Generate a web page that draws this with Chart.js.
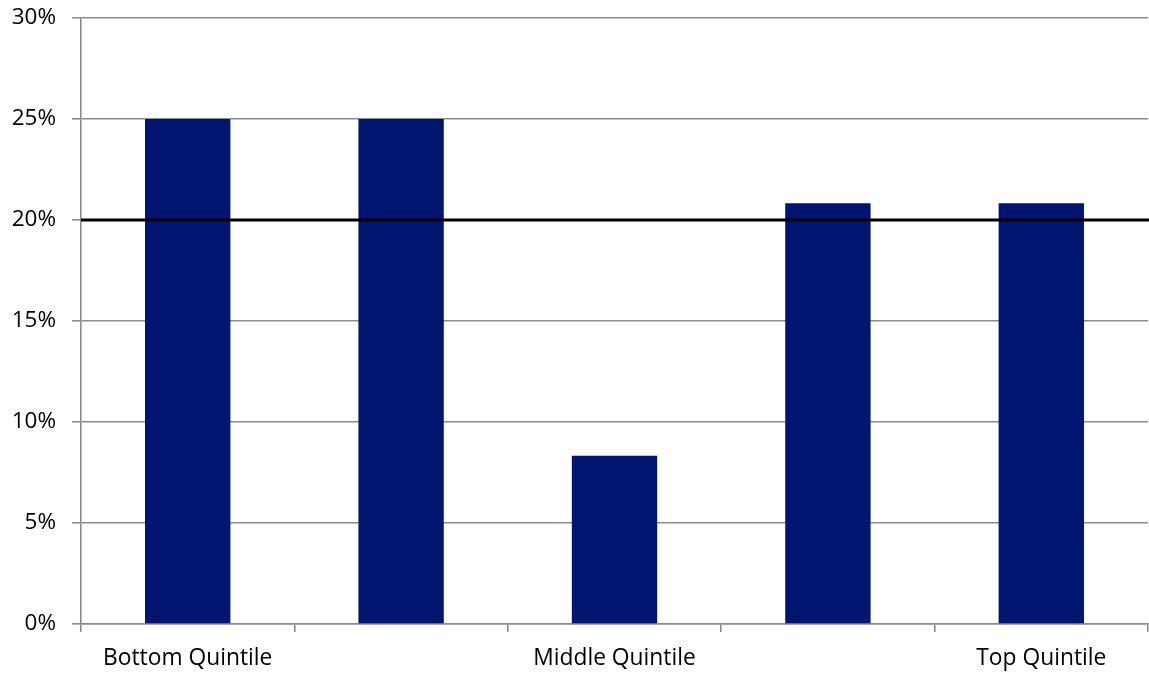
<!DOCTYPE html>
<html><head><meta charset="utf-8">
<script src="https://cdn.jsdelivr.net/npm/chart.js@4/dist/chart.umd.min.js"></script>
<style>html,body{margin:0;padding:0;background:#fff}#wrap{width:1149px;height:677px}</style>
</head><body><div id="wrap"><canvas id="c" width="1149" height="677"></canvas></div>
<script>
const categories = ["Bottom Quintile", "", "Middle Quintile", "", "Top Quintile"];
const shares = [25, 25, 8.33, 20.83, 20.83];
const yTicks = [0, 5, 10, 15, 20, 25, 30];
const referenceValue = [20];

const refLine = {
  id: 'refLine',
  afterDatasetsDraw(chart) {
    const {ctx, chartArea, scales} = chart;
    referenceValue.forEach(v => {
      const y = Math.round(scales.y.getPixelForValue(v));
      ctx.save();
      ctx.strokeStyle = '#000';
      ctx.lineWidth = 3;
      ctx.beginPath();
      ctx.moveTo(chartArea.left, y);
      ctx.lineTo(chartArea.right + 1, y);
      ctx.stroke();
      ctx.restore();
    });
  }
};

const XFONT = { family: 'Open Sans', size: 22.8 };
const YFONT = { family: 'Open Sans', size: 22.5, lineHeight: 1 };

new Chart(document.getElementById('c'), {
  type: 'bar',
  data: { labels: categories, datasets: [{ data: shares, backgroundColor: '#001570', borderWidth: 0, barPercentage: 0.8, categoryPercentage: 0.5 }] },
  options: {
    responsive: false, animation: false, devicePixelRatio: 1,
    layout: { padding: { top: 18, right: 1, left: 0, bottom: 0 } },
    plugins: { legend: { display: false }, tooltip: { enabled: false } },
    scales: {
      x: {
        grid: { drawOnChartArea: false, drawTicks: true, tickLength: 8, color: '#8c8c8c', lineWidth: 1.6, offset: true },
        border: { color: '#8c8c8c', width: 1.6 },
        ticks: { color: '#000', font: XFONT, padding: 13, maxRotation: 0, autoSkip: false },
        afterFit(s) { s.height = 53; }
      },
      y: {
        min: 0, max: 30,
        afterBuildTicks(s) { s.ticks = yTicks.map(v => ({ value: v })); },
        grid: { color: '#8c8c8c', tickLength: 9, lineWidth: 1.6 },
        border: { color: '#8c8c8c', width: 1.6 },
        ticks: { color: '#000', font: YFONT, padding: 16, callback: v => v + '%' },
        afterFit(s) { s.width = 81; s.paddingTop = 0; s.paddingBottom = 0; }
      }
    }
  },
  plugins: [refLine]
});
</script></body></html>
